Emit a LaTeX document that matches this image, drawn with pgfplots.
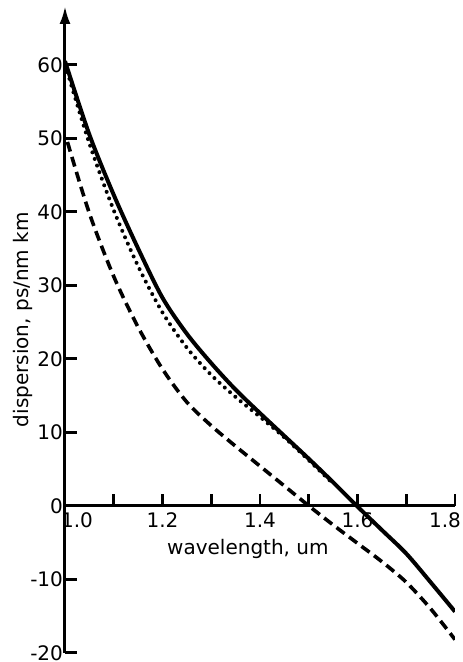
\documentclass[border=0pt]{standalone}
\usepackage{fontspec}
\setmainfont{DejaVu Sans}
\usepackage{pgfplots}
\pgfplotsset{compat=1.18}
\usetikzlibrary{arrows.meta}

\begin{document}
\begin{tikzpicture}
\begin{axis}[
  name=ax,
  scale only axis,
  width=195pt, height=323.4pt,
  xmin=1.0, xmax=1.8, ymin=-20, ymax=68,
  axis x line=middle, axis y line=left,
  x axis line style={-, line width=1.5pt},
  y axis line style={-{Latex[length=9pt,width=5.5pt]}, line width=1.5pt},
  hide obscured x ticks=false, hide obscured y ticks=false,
  tick align=inside,
  major tick length=6pt,
  every tick/.style={black, line width=1.3pt},
  xtick={1.0,1.1,1.2,1.3,1.4,1.5,1.6,1.7,1.8},
  xticklabels={\hspace*{12pt}1.0,,1.2,,1.4,,1.6,,1.8\hspace*{10pt}},
  ytick={-20,-10,0,10,20,30,40,50,60},
  yticklabel style={xshift=2.5pt},
  font=\fontsize{10}{12}\selectfont,
  /pgf/number format/assume math mode=true,
  xlabel={wavelength, um},
  ylabel={dispersion, ps/nm km},
  xlabel style={at={(axis description cs:0.469,0.160)}, anchor=center},
  ylabel style={at={(axis description cs:-0.108,0.515)}, anchor=center},
]
% solid
\addplot[black, line width=2pt, smooth] coordinates {
  (1.0,60.5) (1.05,50.5) (1.1,42.3) (1.15,35.0) (1.2,28.3) (1.25,23.4)
  (1.3,19.4) (1.35,15.8) (1.4,12.6) (1.45,9.5) (1.5,6.4) (1.55,3.2)
  (1.6,-0.1) (1.65,-3.3) (1.7,-6.5) (1.75,-10.4) (1.8,-14.4)
};
% dotted
\addplot[black, line width=2pt, line cap=round, dash pattern=on 0pt off 3.5pt, smooth] coordinates {
  (1.005,59.0) (1.05,49.3) (1.1,40.2) (1.15,32.6) (1.2,26.3) (1.25,21.5)
  (1.3,17.8) (1.35,14.8) (1.4,12.1) (1.45,9.3) (1.5,6.2) (1.55,3.0)
};
% dashed
\addplot[black, line width=1.8pt, dash pattern=on 5pt off 2.8pt, smooth] coordinates {
  (1.005,49.5) (1.05,39.8) (1.1,31.2) (1.15,24.3) (1.2,18.6) (1.25,14.1)
  (1.3,10.9) (1.35,8.1) (1.4,5.4) (1.45,2.7) (1.5,0.0) (1.55,-2.6)
  (1.6,-5.1) (1.65,-7.6) (1.7,-10.4) (1.75,-14.0) (1.8,-18.2)
};
\end{axis}
\pgfresetboundingbox
\path ([xshift=-32.5pt,yshift=-4.6pt]ax.south west) rectangle ([xshift=3.8pt,yshift=3pt]ax.north east);
\end{tikzpicture}
\end{document}
